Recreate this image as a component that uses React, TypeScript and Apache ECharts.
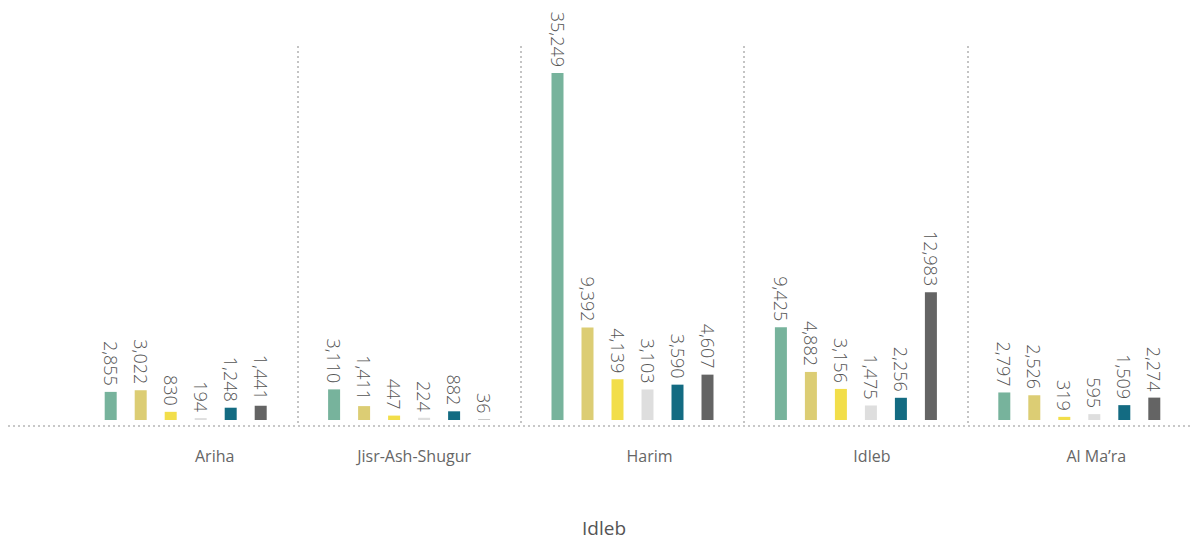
import React, { useEffect, useRef } from "react";
import * as echarts from "echarts";

const categories = ["Ariha", "Jisr-Ash-Shugur", "Harim", "Idleb", "Al Ma’ra"];
const seriesNames = ["Group 1", "Group 2", "Group 3", "Group 4", "Group 5", "Group 6"];
const series1 = [2855, 3110, 35249, 9425, 2797];
const series2 = [3022, 1411, 9392, 4882, 2526];
const series3 = [830, 447, 4139, 3156, 319];
const series4 = [194, 224, 3103, 1475, 595];
const series5 = [1248, 882, 3590, 2256, 1509];
const series6 = [1441, 36, 4607, 12983, 2274];
const seriesValues = [series1, series2, series3, series4, series5, series6];
const colors = ["#77B39C", "#DCCD74", "#F2DE4A", "#DEDEDE", "#136B82", "#646464"];
const axisTitle = "Idleb";
const labelShift = [58, 10, 34, 32, 34];

const FONT = "'Segoe UI', 'Open Sans', sans-serif";

export default function App() {
  const ref = useRef<HTMLDivElement>(null);
  useEffect(() => {
    if (!ref.current) return;
    const chart = echarts.init(ref.current, null, { renderer: "svg" });
    const rich: Record<string, any> = {};
    labelShift.forEach((p, i) => {
      rich["c" + i] = { padding: [0, 0, 0, p], fontSize: 16, color: "#666666", fontFamily: FONT };
    });
    chart.setOption({
      animation: false,
      title: {
        text: axisTitle,
        left: "center",
        top: 505,
        textStyle: { fontSize: 19, color: "#555555", fontWeight: "normal", fontFamily: FONT },
      },
      grid: { left: 66, right: 9, top: 38, bottom: 115, containLabel: false },
      xAxis: {
        type: "category",
        data: categories,
        axisLine: { show: false },
        axisTick: { show: false },
        axisLabel: {
          margin: 22,
          formatter: (v: string, i: number) => `{c${i}|${v}}`,
          rich,
        },
        splitLine: {
          show: true,
          showMinLine: false,
          showMaxLine: false,
          lineStyle: { color: "#c4c4c4", width: 2, type: [2, 3] },
        },
      },
      yAxis: {
        type: "value",
        min: -610,
        max: 37990,
        show: false,
        splitLine: { show: false },
      },
      graphic: [
        {
          type: "line",
          shape: { x1: 0, y1: 418, x2: 1192, y2: 418 },
          style: { stroke: "#c8c8c8", lineWidth: 2, lineDash: [2, 3] },
          silent: true,
        },
      ],
      series: seriesValues.map((vals, i) => ({
        name: seriesNames[i],
        type: "bar",
        data: vals,
        barWidth: 12,
        barGap: "150%",
        itemStyle: { color: colors[i] },
        label: {
          show: true,
          position: "top",
          rotate: -90,
          align: "right",
          verticalAlign: "middle",
          distance: 6,
          color: "#555555",
          fontSize: 18,
          fontWeight: 300,
          fontFamily: FONT,
          formatter: (p: any) => Number(p.value).toLocaleString("en-US"),
        },
      })),
    });
    return () => chart.dispose();
  }, []);
  return <div ref={ref} style={{ width: 1192, height: 533 }} />;
}
